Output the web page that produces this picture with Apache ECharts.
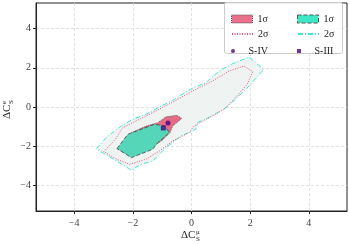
<!DOCTYPE html>
<html><head><meta charset="utf-8">
<script src="https://cdn.jsdelivr.net/npm/echarts@6/dist/echarts.min.js"></script>
<style>html,body{margin:0;padding:0;background:#fff}#c{width:349px;height:244px}</style>
</head><body><div id="c"></div>
<script>
// Data (ΔC_S^μ, ΔC_S^e)
var cyan2sigma = [[-3.24,-2.12],[-2.85,-1.48],[-2.39,-0.97],[-2.0,-0.63],[-1.55,-0.37],[-1.09,0],[-0.64,0.34],[-0.36,0.61],[0.03,0.95],[0.49,1.24],[0.94,1.83],[1.39,2.2],[1.96,2.54],[2.46,1.92],[2.07,1.24],[1.62,0.56],[1.17,-0.04],[0.6,-0.54],[0.2,-0.8],[0.15,-1.13],[-0.36,-1.48],[-0.87,-2.07],[-1.32,-2.75],[-1.72,-2.92],[-2.05,-3.22],[-2.56,-2.75],[-3.13,-2.24],[-3.24,-2.12]];
var red2sigma = [[-2.99,-2.27],[-2.62,-1.7],[-2.34,-1.05],[-1.94,-0.75],[-1.21,-0.2],[-0.64,0.25],[0.03,0.81],[0.71,1.32],[1.28,1.83],[1.79,2.09],[2.09,1.8],[1.9,1.16],[1.5,0.47],[1.11,-0.12],[0.49,-0.63],[0.09,-0.97],[-0.08,-1.31],[-0.64,-1.73],[-1.09,-2.24],[-1.55,-2.66],[-2.11,-2.92],[-2.56,-2.66],[-2.99,-2.27]];
var red1sigma = [[-2.05,-1.31],[-1.55,-0.97],[-1.15,-0.8],[-0.87,-0.5],[-0.5,-0.42],[-0.33,-0.58],[-0.64,-0.97],[-0.73,-1.3],[-1.0,-1.7],[-1.5,-2.2],[-2.1,-2.5],[-2.5,-2.15]];
var green1sigma = [[-2.54,-2.12],[-2.17,-1.39],[-1.26,-0.88],[-0.9,-0.97],[-0.76,-1.31],[-1.15,-1.82],[-1.32,-2.15],[-2.05,-2.58]];
var pointSIV = [[-0.8,-0.81]];
var pointSIII = [[-0.96,-1.07]];
var tickValues = [-4,-2,0,2,4];

var FONT = '"Liberation Serif", "DejaVu Serif", serif';
var chart = echarts.init(document.getElementById('c'), null, {renderer:'canvas'});

function polySeries(name, pts, style, z){
  return {
    name: name, type: 'custom', data: pts, z: z, clip: true,
    encode: {x:0, y:1},
    renderItem: function(params, api){
      if (params.dataIndex !== 0) return;
      var p = pts.map(function(d){ return api.coord(d); });
      return {type:'polygon', shape:{points:p}, style: style};
    }
  };
}
function fmt(v){ return String(v).replace('-', '\u2212'); }

function makeAxis(margin){
  return {
    type:'value', min:-5.3, max:5.3,
    axisLine:{show:true, onZero:false, lineStyle:{color:'#222', width:1}},
    axisTick:{show:true, length:3, customValues:tickValues, lineStyle:{color:'#222'}},
    splitLine:{show:true, lineStyle:{color:'#dcdcdc', type:[3,2], width:0.8}},
    axisLabel:{fontFamily:FONT, fontSize:10, color:'#444', formatter:fmt, customValues:tickValues, margin:margin}
  };
}

var LEG_TEXT = {fontFamily:FONT, fontSize:10, color:'#222', lineHeight:10};
function leg(left, top, h, item){
  return {orient:'vertical', left:left, top:top, itemWidth:21, itemHeight:h, itemGap:0,
          textStyle:LEG_TEXT, data:[item]};
}

var option = {
  animation:false,
  grid:{left:36, right:2, top:3, bottom:33, show:true, borderColor:'#222', borderWidth:1},
  xAxis: makeAxis(7),
  yAxis: makeAxis(5),
  legend:[
    leg(226, 9, 8, {name:'1σ', icon:'rect', itemStyle:{color:'#e8708a', borderColor:'#555', borderWidth:1, borderType:'dotted'}}),
    leg(226, 24, 8, {name:'2σ', itemStyle:{opacity:0}}),
    leg(226, 41, 4, {name:'S-IV', icon:'circle', itemStyle:{color:'#4b0082'}}),
    leg(292, 9, 8, {name:'1σ ', icon:'rect', itemStyle:{color:'#3ee8c6', borderColor:'#555', borderWidth:1, borderType:'dashed'}}),
    leg(292, 24, 8, {name:'2σ ', itemStyle:{opacity:0}}),
    leg(292, 41, 4, {name:'S-III', icon:'path://M0,0L1,0L1,1L0,1Z', itemStyle:{color:'#4b0082'}})
  ],
  graphic:[
    {type:'rect', left:224, top:2, shape:{width:118, height:51, r:2}, z:3,
     style:{fill:'rgba(255,255,255,0.85)', stroke:'#cccccc', lineWidth:1}},
    {type:'group', left:181, top:229, z:5, children:[
      {type:'text', x:0, y:0, style:{text:'ΔC', font:'11px '+FONT, fill:'#222'}},
      {type:'text', x:15, y:-1, style:{text:'μ', font:'7px '+FONT, fill:'#222'}},
      {type:'text', x:15, y:6, style:{text:'S', font:'7px '+FONT, fill:'#222'}}
    ]},
    {type:'group', x:2, y:119, rotation:Math.PI/2, z:5, children:[
      {type:'text', x:0, y:0, style:{text:'ΔC', font:'11px '+FONT, fill:'#222'}},
      {type:'text', x:15, y:-1, style:{text:'e', font:'7px '+FONT, fill:'#222'}},
      {type:'text', x:15, y:6, style:{text:'S', font:'7px '+FONT, fill:'#222'}}
    ]}
  ],
  series:[
    polySeries('fill2', cyan2sigma, {fill:'#eff3f2', stroke:null}, 1),
    {name:'2σ ', type:'line', data:cyan2sigma, symbol:'none', z:3, smooth:false,
     lineStyle:{color:'#3de8d4', width:1, type:[5,2,1,2]}, itemStyle:{color:'#3de8d4'}},
    {name:'2σ', type:'line', data:red2sigma, symbol:'none', z:3, smooth:false,
     lineStyle:{color:'#e8557a', width:1, type:[1,1.5]}, itemStyle:{color:'#e8557a'}},
    polySeries('1σ', red1sigma, {fill:'#e46c86', stroke:'#555', lineWidth:0.8, lineDash:[1,1]}, 4),
    polySeries('1σ ', green1sigma, {fill:'#55d6b8', stroke:'#444', lineWidth:0.8, lineDash:[4,2]}, 5),
    {name:'S-IV', type:'scatter', data:pointSIV, symbol:'circle', symbolSize:5, z:6, itemStyle:{color:'#4b0082'}},
    {name:'S-III', type:'scatter', data:pointSIII, symbol:'rect', symbolSize:5, z:6, itemStyle:{color:'#4b0082'}}
  ]
};
chart.setOption(option);
</script>
</body></html>
